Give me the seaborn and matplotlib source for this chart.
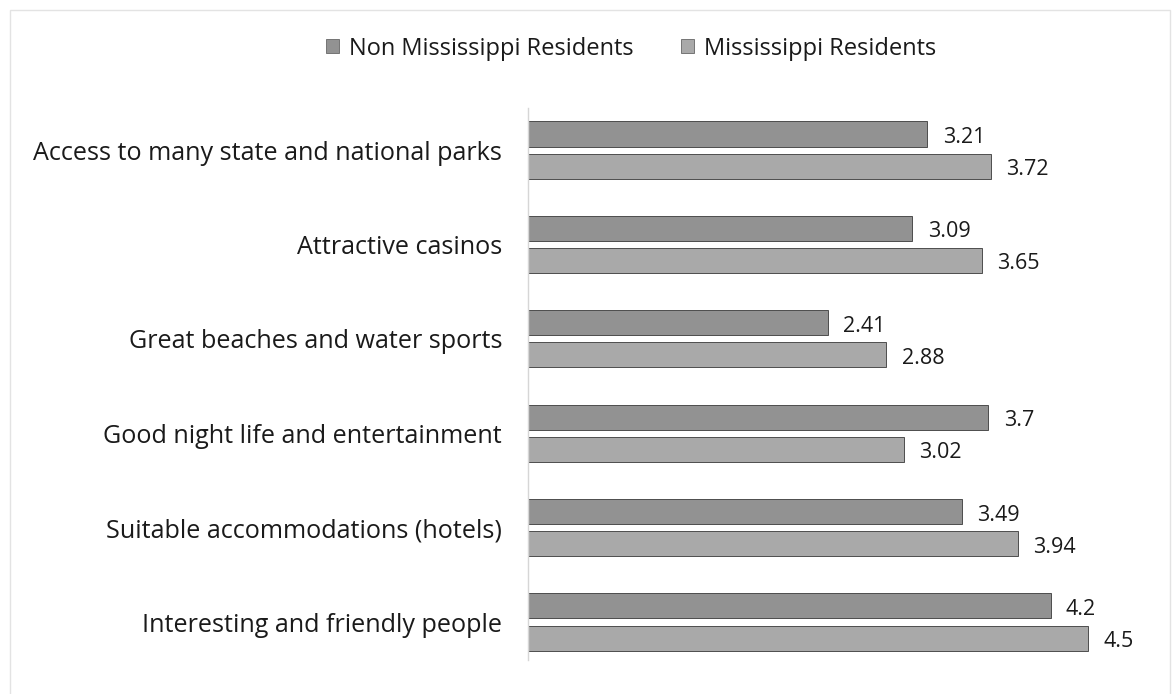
import matplotlib
matplotlib.use("Agg")
import matplotlib.pyplot as plt
import seaborn as sns
import pandas as pd
from matplotlib.patches import Rectangle

categories = [
    "Access to many state and national parks",
    "Attractive casinos",
    "Great beaches and water sports",
    "Good night life and entertainment",
    "Suitable accommodations (hotels)",
    "Interesting and friendly people",
]
non_ms = [3.21, 3.09, 2.41, 3.70, 3.49, 4.20]
ms = [3.72, 3.65, 2.88, 3.02, 3.94, 4.50]
series = ["Non Mississippi Residents", "Mississippi Residents"]
label_text_non = ["3.21", "3.09", "2.41", "3.7", "3.49", "4.2"]
label_text_ms = ["3.72", "3.65", "2.88", "3.02", "3.94", "4.5"]

df = pd.DataFrame({
    "category": categories * 2,
    "value": non_ms + ms,
    "group": [series[0]] * len(categories) + [series[1]] * len(categories),
})

sns.set_theme(style="white")
plt.rcParams["font.family"] = ["Open Sans", "DejaVu Sans"]

fig = plt.figure(figsize=(11.75, 6.94), dpi=100)
ax = fig.add_axes([0.4494, 0.0357, 0.5294, 0.8161])

palette = {series[0]: "#929292", series[1]: "#a9a9a9"}
sns.barplot(data=df, y="category", x="value", hue="group", order=categories,
            hue_order=series, palette=palette, orient="h", width=0.68, gap=0.22,
            edgecolor="#4d4d4d", linewidth=0.7, ax=ax, legend=False, saturation=1)

ax.set_xlim(0, 5)
ax.set_ylim(len(categories) - 0.5, -0.5)
ax.set_xlabel("")
ax.set_ylabel("")
ax.set_xticks([])
ax.tick_params(axis="y", length=0, pad=18.7, labelsize=18.1, labelcolor="#1a1a1a")
for s in ["top", "right", "bottom"]:
    ax.spines[s].set_visible(False)
ax.spines["left"].set_color("#d6d6d6")
ax.spines["left"].set_linewidth(1.0)
ax.spines["left"].set_bounds(len(categories) - 0.6, -0.45)

# value labels at the end of each bar
for cont, texts in zip(ax.containers, [label_text_non, label_text_ms]):
    for bar, t in zip(cont, texts):
        w = bar.get_width()
        yc = bar.get_y() + bar.get_height() / 2
        ax.annotate(t, xy=(w, yc), xytext=(11, -2.5), textcoords="offset points",
                    ha="left", va="center", fontsize=15.5, color="#1a1a1a")

# legend
handles = [Rectangle((0, 0), 1, 1, facecolor=palette[s], edgecolor="#666666", linewidth=0.6)
           for s in series]
fig.legend(handles, series, loc="center", bbox_to_anchor=(0.537, 0.930), ncol=2,
           frameon=False, fontsize=17, handlelength=0.55, handleheight=0.55,
           handletextpad=0.42, columnspacing=2.0, labelcolor="#1a1a1a")

# chart frame
fig.patches.append(Rectangle((10 / 1175, -0.02), 1160 / 1175, 1.02 - 10 / 694,
                             transform=fig.transFigure, fill=False,
                             edgecolor="#e3e3e3", linewidth=1.0))

fig.savefig("out.png", dpi=100)
